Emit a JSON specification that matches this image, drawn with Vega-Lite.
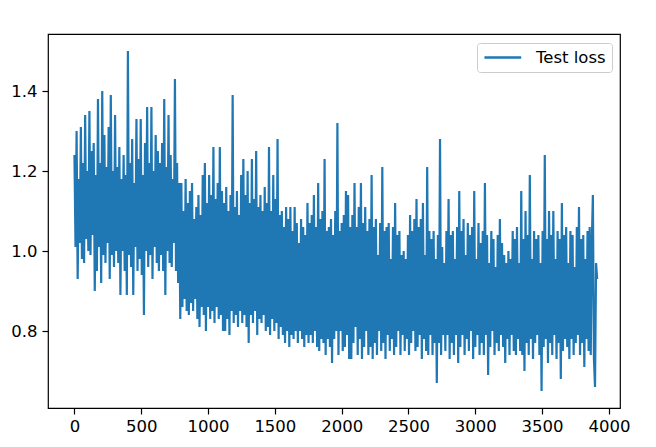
{
  "$schema": "https://vega.github.io/schema/vega-lite/v6.json",
  "width": 572,
  "height": 374,
  "autosize": {"type": "none"},
  "padding": {"left": 48, "top": 34, "right": 36, "bottom": 39},
  "background": "#ffffff",
  "config": {
    "view": {"stroke": "#000000", "strokeWidth": 1.2},
    "font": "DejaVu Sans",
    "axis": {"domain": false, "grid": false, "tickColor": "#000000", "tickWidth": 1.2, "tickSize": 6, "labelColor": "#000000", "labelFont": "DejaVu Sans", "labelFontSize": 16.5, "title": null}
  },
  "data": {"values": [
{"step":0,"loss":1.24},{"step":8,"loss":1.01},{"step":16,"loss":1.30},{"step":24,"loss":0.93},{"step":32,"loss":1.18},{"step":40,"loss":1.02},{"step":48,"loss":1.31},{"step":56,"loss":0.98},{"step":64,"loss":1.22},{"step":72,"loss":0.97},{"step":80,"loss":1.34},{"step":88,"loss":1.03},{"step":96,"loss":1.20},{"step":104,"loss":1.00},{"step":112,"loss":1.35},{"step":120,"loss":0.99},{"step":128,"loss":1.25},{"step":136,"loss":1.04},{"step":144,"loss":1.27},{"step":152,"loss":0.90},
{"step":160,"loss":1.19},{"step":168,"loss":0.95},{"step":176,"loss":1.38},{"step":184,"loss":1.01},{"step":192,"loss":1.22},{"step":200,"loss":0.92},{"step":208,"loss":1.40},{"step":216,"loss":0.99},{"step":224,"loss":1.29},{"step":232,"loss":0.97},{"step":240,"loss":1.21},{"step":248,"loss":1.02},{"step":256,"loss":1.31},{"step":264,"loss":0.93},{"step":272,"loss":1.39},{"step":280,"loss":0.99},{"step":288,"loss":1.20},{"step":296,"loss":0.96},{"step":304,"loss":1.34},{"step":312,"loss":1.00},
{"step":320,"loss":1.21},{"step":328,"loss":0.97},{"step":336,"loss":1.26},{"step":344,"loss":0.89},{"step":352,"loss":1.18},{"step":360,"loss":1.00},{"step":368,"loss":1.24},{"step":376,"loss":0.95},{"step":384,"loss":1.19},{"step":392,"loss":0.89},{"step":400,"loss":1.50},{"step":408,"loss":0.99},{"step":416,"loss":1.22},{"step":424,"loss":0.96},{"step":432,"loss":1.28},{"step":440,"loss":0.89},{"step":448,"loss":1.17},{"step":456,"loss":1.01},{"step":464,"loss":1.33},{"step":472,"loss":0.95},
{"step":480,"loss":1.23},{"step":488,"loss":0.98},{"step":496,"loss":1.33},{"step":504,"loss":0.94},{"step":512,"loss":1.19},{"step":520,"loss":0.84},{"step":528,"loss":1.27},{"step":536,"loss":1.00},{"step":544,"loss":1.36},{"step":552,"loss":0.96},{"step":560,"loss":1.22},{"step":568,"loss":0.99},{"step":576,"loss":1.36},{"step":584,"loss":0.93},{"step":592,"loss":1.20},{"step":600,"loss":1.01},{"step":608,"loss":1.29},{"step":616,"loss":0.97},{"step":624,"loss":1.25},{"step":632,"loss":0.95},
{"step":640,"loss":1.22},{"step":648,"loss":0.99},{"step":656,"loss":1.27},{"step":664,"loss":0.95},{"step":672,"loss":1.38},{"step":680,"loss":0.89},{"step":688,"loss":1.21},{"step":696,"loss":1.00},{"step":704,"loss":1.34},{"step":712,"loss":0.97},{"step":720,"loss":1.24},{"step":728,"loss":0.96},{"step":736,"loss":1.18},{"step":744,"loss":1.02},{"step":752,"loss":1.43},{"step":760,"loss":0.95},{"step":768,"loss":1.22},{"step":776,"loss":0.92},{"step":784,"loss":1.17},{"step":792,"loss":0.83},
{"step":800,"loss":1.17},{"step":808,"loss":0.86},{"step":816,"loss":1.10},{"step":824,"loss":0.88},{"step":832,"loss":1.18},{"step":840,"loss":0.85},{"step":848,"loss":1.12},{"step":856,"loss":0.84},{"step":864,"loss":1.15},{"step":872,"loss":0.87},{"step":880,"loss":1.17},{"step":888,"loss":0.85},{"step":896,"loss":1.08},{"step":904,"loss":0.88},{"step":912,"loss":1.11},{"step":920,"loss":0.83},{"step":928,"loss":1.14},{"step":936,"loss":0.81},{"step":944,"loss":1.09},{"step":952,"loss":0.86},
{"step":960,"loss":1.19},{"step":968,"loss":0.84},{"step":976,"loss":1.22},{"step":984,"loss":0.80},{"step":992,"loss":1.12},{"step":1000,"loss":0.86},{"step":1008,"loss":1.19},{"step":1016,"loss":0.83},{"step":1024,"loss":1.14},{"step":1032,"loss":0.85},{"step":1040,"loss":1.26},{"step":1048,"loss":0.82},{"step":1056,"loss":1.13},{"step":1064,"loss":0.86},{"step":1072,"loss":1.17},{"step":1080,"loss":0.83},{"step":1088,"loss":1.26},{"step":1096,"loss":0.84},{"step":1104,"loss":1.15},{"step":1112,"loss":0.80},
{"step":1120,"loss":1.12},{"step":1128,"loss":0.80},{"step":1136,"loss":1.16},{"step":1144,"loss":0.83},{"step":1152,"loss":1.10},{"step":1160,"loss":0.79},{"step":1168,"loss":1.14},{"step":1176,"loss":0.85},{"step":1184,"loss":1.39},{"step":1192,"loss":0.82},{"step":1200,"loss":1.11},{"step":1208,"loss":0.84},{"step":1216,"loss":1.15},{"step":1224,"loss":0.81},{"step":1232,"loss":1.09},{"step":1240,"loss":0.85},{"step":1248,"loss":1.19},{"step":1256,"loss":0.82},{"step":1264,"loss":1.23},{"step":1272,"loss":0.84},
{"step":1280,"loss":1.14},{"step":1288,"loss":0.81},{"step":1296,"loss":1.20},{"step":1304,"loss":0.77},{"step":1312,"loss":1.12},{"step":1320,"loss":0.84},{"step":1328,"loss":1.23},{"step":1336,"loss":0.82},{"step":1344,"loss":1.13},{"step":1352,"loss":0.85},{"step":1360,"loss":1.25},{"step":1368,"loss":0.79},{"step":1376,"loss":1.11},{"step":1384,"loss":0.83},{"step":1392,"loss":1.14},{"step":1400,"loss":0.82},{"step":1408,"loss":1.10},{"step":1416,"loss":0.84},{"step":1424,"loss":1.16},{"step":1432,"loss":0.80},
{"step":1440,"loss":1.12},{"step":1448,"loss":0.81},{"step":1456,"loss":1.26},{"step":1464,"loss":0.79},{"step":1472,"loss":1.10},{"step":1480,"loss":0.83},{"step":1488,"loss":1.19},{"step":1496,"loss":0.80},{"step":1504,"loss":1.13},{"step":1512,"loss":0.82},{"step":1520,"loss":1.28},{"step":1528,"loss":0.78},{"step":1536,"loss":1.09},{"step":1544,"loss":0.81},{"step":1552,"loss":1.10},{"step":1560,"loss":0.79},{"step":1568,"loss":1.06},{"step":1576,"loss":0.77},{"step":1584,"loss":1.11},{"step":1592,"loss":0.80},
{"step":1600,"loss":1.08},{"step":1608,"loss":0.76},{"step":1616,"loss":1.11},{"step":1624,"loss":0.79},{"step":1632,"loss":1.05},{"step":1640,"loss":0.78},{"step":1648,"loss":1.11},{"step":1656,"loss":0.80},{"step":1664,"loss":1.07},{"step":1672,"loss":0.77},{"step":1680,"loss":1.02},{"step":1688,"loss":0.80},{"step":1696,"loss":1.08},{"step":1704,"loss":0.78},{"step":1712,"loss":1.06},{"step":1720,"loss":0.76},{"step":1728,"loss":1.04},{"step":1736,"loss":0.79},{"step":1744,"loss":1.12},{"step":1752,"loss":0.77},
{"step":1760,"loss":1.07},{"step":1768,"loss":0.79},{"step":1776,"loss":1.09},{"step":1784,"loss":0.77},{"step":1792,"loss":1.14},{"step":1800,"loss":0.80},{"step":1808,"loss":1.06},{"step":1816,"loss":0.76},{"step":1824,"loss":1.17},{"step":1832,"loss":0.75},{"step":1840,"loss":1.08},{"step":1848,"loss":0.78},{"step":1856,"loss":1.10},{"step":1864,"loss":0.77},{"step":1872,"loss":1.23},{"step":1880,"loss":0.74},{"step":1888,"loss":1.05},{"step":1896,"loss":0.78},{"step":1904,"loss":1.06},{"step":1912,"loss":0.76},
{"step":1920,"loss":1.08},{"step":1928,"loss":0.72},{"step":1936,"loss":1.04},{"step":1944,"loss":0.78},{"step":1952,"loss":1.10},{"step":1960,"loss":0.80},{"step":1968,"loss":1.32},{"step":1976,"loss":0.74},{"step":1984,"loss":1.05},{"step":1992,"loss":0.80},{"step":2000,"loss":1.07},{"step":2008,"loss":0.75},{"step":2016,"loss":1.09},{"step":2024,"loss":0.76},{"step":2032,"loss":1.15},{"step":2040,"loss":0.79},{"step":2048,"loss":1.14},{"step":2056,"loss":0.73},{"step":2064,"loss":1.06},{"step":2072,"loss":0.73},
{"step":2080,"loss":1.09},{"step":2088,"loss":0.77},{"step":2096,"loss":1.17},{"step":2104,"loss":0.81},{"step":2112,"loss":1.06},{"step":2120,"loss":0.74},{"step":2128,"loss":1.11},{"step":2136,"loss":0.78},{"step":2144,"loss":1.17},{"step":2152,"loss":0.73},{"step":2160,"loss":1.07},{"step":2168,"loss":0.76},{"step":2176,"loss":1.11},{"step":2184,"loss":0.80},{"step":2192,"loss":1.05},{"step":2200,"loss":0.74},{"step":2208,"loss":1.08},{"step":2216,"loss":0.76},{"step":2224,"loss":1.19},{"step":2232,"loss":0.73},
{"step":2240,"loss":1.06},{"step":2248,"loss":0.77},{"step":2256,"loss":1.08},{"step":2264,"loss":0.74},{"step":2272,"loss":0.99},{"step":2280,"loss":0.80},{"step":2288,"loss":1.07},{"step":2296,"loss":0.75},{"step":2304,"loss":1.21},{"step":2312,"loss":0.77},{"step":2320,"loss":1.05},{"step":2328,"loss":0.73},{"step":2336,"loss":1.06},{"step":2344,"loss":0.79},{"step":2352,"loss":1.07},{"step":2360,"loss":0.75},{"step":2368,"loss":0.98},{"step":2376,"loss":0.78},{"step":2384,"loss":1.06},{"step":2392,"loss":0.74},
{"step":2400,"loss":1.12},{"step":2408,"loss":0.76},{"step":2416,"loss":1.04},{"step":2424,"loss":0.80},{"step":2432,"loss":1.05},{"step":2440,"loss":0.74},{"step":2448,"loss":0.99},{"step":2456,"loss":0.79},{"step":2464,"loss":1.00},{"step":2472,"loss":0.75},{"step":2480,"loss":0.98},{"step":2488,"loss":0.78},{"step":2496,"loss":1.04},{"step":2504,"loss":0.74},{"step":2512,"loss":1.09},{"step":2520,"loss":0.77},{"step":2528,"loss":1.05},{"step":2536,"loss":0.80},{"step":2544,"loss":1.08},{"step":2552,"loss":0.75},
{"step":2560,"loss":1.13},{"step":2568,"loss":0.76},{"step":2576,"loss":1.06},{"step":2584,"loss":0.79},{"step":2592,"loss":1.08},{"step":2600,"loss":0.73},{"step":2608,"loss":1.12},{"step":2616,"loss":0.78},{"step":2624,"loss":0.99},{"step":2632,"loss":0.75},{"step":2640,"loss":1.21},{"step":2648,"loss":0.74},{"step":2656,"loss":1.05},{"step":2664,"loss":0.79},{"step":2672,"loss":1.03},{"step":2680,"loss":0.74},{"step":2688,"loss":1.05},{"step":2696,"loss":0.77},{"step":2704,"loss":0.98},{"step":2712,"loss":0.67},
{"step":2720,"loss":1.04},{"step":2728,"loss":0.77},{"step":2736,"loss":1.28},{"step":2744,"loss":0.74},{"step":2752,"loss":1.01},{"step":2760,"loss":0.79},{"step":2768,"loss":0.97},{"step":2776,"loss":0.75},{"step":2784,"loss":1.05},{"step":2792,"loss":0.79},{"step":2800,"loss":1.13},{"step":2808,"loss":0.73},{"step":2816,"loss":1.04},{"step":2824,"loss":0.77},{"step":2832,"loss":1.05},{"step":2840,"loss":0.74},{"step":2848,"loss":0.98},{"step":2856,"loss":0.79},{"step":2864,"loss":1.06},{"step":2872,"loss":0.72},
{"step":2880,"loss":1.15},{"step":2888,"loss":0.76},{"step":2896,"loss":1.05},{"step":2904,"loss":0.79},{"step":2912,"loss":1.08},{"step":2920,"loss":0.74},{"step":2928,"loss":0.99},{"step":2936,"loss":0.78},{"step":2944,"loss":1.07},{"step":2952,"loss":0.75},{"step":2960,"loss":1.04},{"step":2968,"loss":0.80},{"step":2976,"loss":1.06},{"step":2984,"loss":0.73},{"step":2992,"loss":1.15},{"step":3000,"loss":0.76},{"step":3008,"loss":0.98},{"step":3016,"loss":0.79},{"step":3024,"loss":1.07},{"step":3032,"loss":0.74},
{"step":3040,"loss":1.02},{"step":3048,"loss":0.77},{"step":3056,"loss":1.05},{"step":3064,"loss":0.74},{"step":3072,"loss":1.17},{"step":3080,"loss":0.79},{"step":3088,"loss":1.04},{"step":3096,"loss":0.69},{"step":3104,"loss":0.97},{"step":3112,"loss":0.76},{"step":3120,"loss":1.05},{"step":3128,"loss":0.80},{"step":3136,"loss":1.03},{"step":3144,"loss":0.74},{"step":3152,"loss":0.96},{"step":3160,"loss":0.77},{"step":3168,"loss":1.04},{"step":3176,"loss":0.75},{"step":3184,"loss":1.08},{"step":3192,"loss":0.79},
{"step":3200,"loss":1.02},{"step":3208,"loss":0.76},{"step":3216,"loss":0.99},{"step":3224,"loss":0.72},{"step":3232,"loss":0.97},{"step":3240,"loss":0.78},{"step":3248,"loss":1.00},{"step":3256,"loss":0.74},{"step":3264,"loss":0.98},{"step":3272,"loss":0.79},{"step":3280,"loss":1.05},{"step":3288,"loss":0.75},{"step":3296,"loss":1.03},{"step":3304,"loss":0.74},{"step":3312,"loss":1.06},{"step":3320,"loss":0.78},{"step":3328,"loss":0.97},{"step":3336,"loss":0.75},{"step":3344,"loss":1.15},{"step":3352,"loss":0.74},
{"step":3360,"loss":1.03},{"step":3368,"loss":0.70},{"step":3376,"loss":1.10},{"step":3384,"loss":0.77},{"step":3392,"loss":1.04},{"step":3400,"loss":0.74},{"step":3408,"loss":1.19},{"step":3416,"loss":0.78},{"step":3424,"loss":0.98},{"step":3432,"loss":0.73},{"step":3440,"loss":1.05},{"step":3448,"loss":0.77},{"step":3456,"loss":1.03},{"step":3464,"loss":0.79},{"step":3472,"loss":1.04},{"step":3480,"loss":0.74},{"step":3488,"loss":0.97},{"step":3496,"loss":0.65},{"step":3504,"loss":1.05},{"step":3512,"loss":0.76},
{"step":3520,"loss":1.24},{"step":3528,"loss":0.78},{"step":3536,"loss":1.03},{"step":3544,"loss":0.72},{"step":3552,"loss":1.10},{"step":3560,"loss":0.77},{"step":3568,"loss":1.04},{"step":3576,"loss":0.74},{"step":3584,"loss":1.10},{"step":3592,"loss":0.79},{"step":3600,"loss":0.98},{"step":3608,"loss":0.73},{"step":3616,"loss":1.05},{"step":3624,"loss":0.77},{"step":3632,"loss":1.03},{"step":3640,"loss":0.68},{"step":3648,"loss":1.12},{"step":3656,"loss":0.75},{"step":3664,"loss":1.04},{"step":3672,"loss":0.78},
{"step":3680,"loss":1.06},{"step":3688,"loss":0.76},{"step":3696,"loss":0.97},{"step":3704,"loss":0.73},{"step":3712,"loss":1.05},{"step":3720,"loss":0.78},{"step":3728,"loss":1.04},{"step":3736,"loss":0.74},{"step":3744,"loss":0.96},{"step":3752,"loss":0.77},{"step":3760,"loss":1.06},{"step":3768,"loss":0.79},{"step":3776,"loss":1.11},{"step":3784,"loss":0.74},{"step":3792,"loss":1.03},{"step":3800,"loss":0.77},{"step":3808,"loss":1.04},{"step":3816,"loss":0.71},{"step":3824,"loss":0.98},{"step":3832,"loss":0.78},
{"step":3840,"loss":1.05},{"step":3848,"loss":0.75},{"step":3856,"loss":1.06},{"step":3864,"loss":0.74},{"step":3872,"loss":1.02},{"step":3880,"loss":1.14},{"step":3888,"loss":0.73},{"step":3896,"loss":0.66},{"step":3904,"loss":0.97},{"step":3912,"loss":0.93}
  ]},
  "mark": {"type": "line", "strokeWidth": 2.2, "clip": true},
  "encoding": {
    "x": {"field": "step", "type": "quantitative", "scale": {"domain": [-198, 4083], "nice": false, "zero": false}, "axis": {"values": [0, 500, 1000, 1500, 2000, 2500, 3000, 3500, 4000], "format": "d", "labelPadding": 4}},
    "y": {"field": "loss", "type": "quantitative", "scale": {"domain": [0.6075, 1.5425], "nice": false, "zero": false}, "axis": {"values": [0.8, 1.0, 1.2, 1.4], "format": ".1f", "labelPadding": 5}},
    "color": {"datum": "Test loss", "scale": {"range": ["#1f77b4"]}, "legend": {"orient": "none", "legendX": 429, "legendY": 9, "title": null, "symbolType": "M-1,0H4.2", "symbolSize": 200, "symbolStrokeWidth": 2.5, "symbolFillColor": "transparent", "labelFont": "DejaVu Sans", "labelFontSize": 16.5, "labelColor": "#000000", "labelOffset": 36, "padding": 6, "strokeColor": "#cccccc", "fillColor": "#ffffff", "cornerRadius": 3}}
  }
}
